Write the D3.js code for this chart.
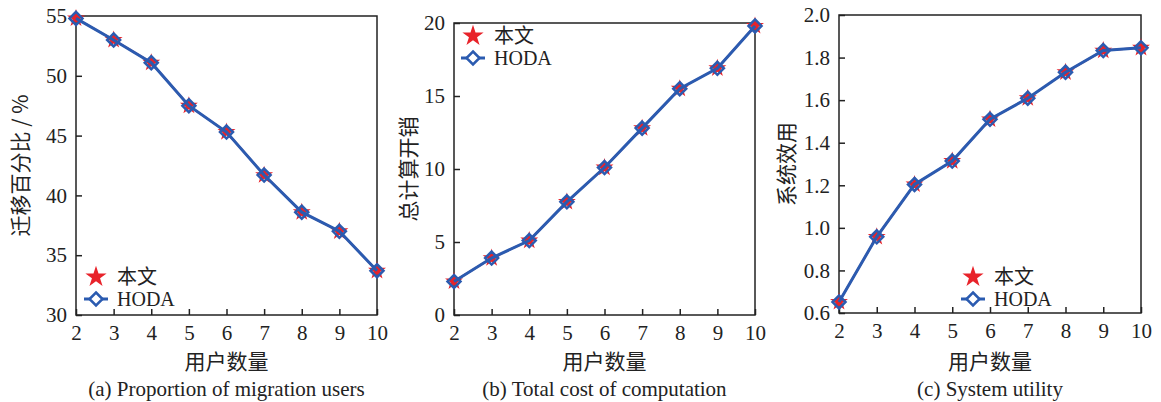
<!DOCTYPE html>
<html>
<head>
<meta charset="utf-8">
<script src="https://cdn.jsdelivr.net/npm/d3@7"></script>
<style>
  body { margin: 0; background: #fff; }
  .tick text { font-family: "Liberation Serif", "Times New Roman", serif; font-size: 21px; fill: #222; }
  .lbl { font-family: "Noto Sans CJK SC", sans-serif; font-size: 21px; fill: #222; }
  .cap { font-family: "Liberation Serif", serif; font-size: 21px; fill: #222; }
  .leg { font-family: "Liberation Serif", "Noto Sans CJK SC", serif; font-size: 20px; fill: #222; }
</style>
</head>
<body>
<div id="chart"></div>
<script>
// data
var users = [2, 3, 4, 5, 6, 7, 8, 9, 10];
var migration = [54.8, 53.0, 51.1, 47.5, 45.3, 41.7, 38.6, 37.0, 33.7];
var cost = [2.3, 3.9, 5.1, 7.75, 10.1, 12.8, 15.5, 16.9, 19.8];
var utility = [0.652, 0.958, 1.204, 1.314, 1.51, 1.609, 1.731, 1.833, 1.846];
var seriesNames = ['本文', 'HODA'];
var yLabels = ['迁移百分比 / %', '总计算开销', '系统效用'];
var xLabel = '用户数量';
var captions = ['(a) Proportion of migration users', '(b) Total cost of computation', '(c) System utility'];

var width = 1161, height = 402;
var red = '#e8232a', blue = '#2b5bb0';

var svg = d3.select('#chart')
    .append('svg')
    .attr('width', width + 'px')
    .attr('height', height + 'px');

var panels = [
    { values: migration, domain: [30, 55], ticks: d3.range(30, 56, 5), fmt: d3.format('d'),
      box: [76, 377, 16, 315], ylx: 19, legend: [96, 277] },
    { values: cost, domain: [0, 20], ticks: d3.range(0, 21, 5), fmt: d3.format('d'),
      box: [454, 755, 23, 315], ylx: 407, legend: [473, 36] },
    { values: utility, domain: [0.6, 2.0], ticks: [0.6, 0.8, 1.0, 1.2, 1.4, 1.6, 1.8, 2.0], fmt: d3.format('.1f'),
      box: [839, 1141, 15, 313], ylx: 785, legend: [973, 277] }
];

var star = d3.symbol().type(d3.symbolStar).size(100);
var starLeg = d3.symbol().type(d3.symbolStar).size(140);
var diamond = 'M0,-6.5L6.5,0L0,6.5L-6.5,0Z';

panels.forEach(function(p, i){
    var l = p.box[0], r = p.box[1], t = p.box[2], b = p.box[3];
    var x = d3.scaleLinear().domain([2, 10]).range([l, r]);
    var y = d3.scaleLinear().domain(p.domain).range([b, t]);
    var g = svg.append('g');

    // axes with inward ticks
    g.append('g')
        .attr('transform', 'translate(0,' + b + ')')
        .call(d3.axisBottom(x).tickValues(users).tickSize(-6).tickPadding(10).tickFormat(d3.format('d')))
        .call(function(a){ a.select('.domain').remove(); a.selectAll('line').attr('stroke', '#222').attr('stroke-width', 1.5); });
    g.append('g')
        .attr('transform', 'translate(' + l + ',0)')
        .call(d3.axisLeft(y).tickValues(p.ticks).tickSize(-6).tickPadding(9).tickFormat(p.fmt))
        .call(function(a){ a.select('.domain').remove(); a.selectAll('line').attr('stroke', '#222').attr('stroke-width', 1.5); });

    g.append('rect')
        .attr('x', l).attr('y', t)
        .attr('width', r - l).attr('height', b - t)
        .attr('fill', 'none').attr('stroke', '#222').attr('stroke-width', 1.5);

    var line = d3.line()
        .x(function(d, j){ return x(users[j]); })
        .y(function(d){ return y(d); });

    // 本文
    g.append('path').datum(p.values).attr('d', line)
        .attr('fill', 'none').attr('stroke', red).attr('stroke-width', 2);
    g.selectAll('.star').data(p.values).enter().append('path')
        .attr('class', 'star')
        .attr('transform', function(d, j){ return 'translate(' + x(users[j]) + ',' + y(d) + ')'; })
        .attr('d', star).attr('fill', red);

    // HODA
    g.append('path').datum(p.values).attr('d', line)
        .attr('fill', 'none').attr('stroke', blue).attr('stroke-width', 3);
    g.selectAll('.dia').data(p.values).enter().append('path')
        .attr('class', 'dia')
        .attr('transform', function(d, j){ return 'translate(' + x(users[j]) + ',' + y(d) + ')'; })
        .attr('d', diamond).attr('fill', 'none').attr('stroke', blue).attr('stroke-width', 2.5);

    // labels
    var cx = (l + r) / 2;
    g.append('text').attr('class', 'lbl')
        .attr('transform', 'translate(' + p.ylx + ',' + ((t + b) / 2) + ') rotate(-90)')
        .attr('text-anchor', 'middle').attr('dominant-baseline', 'central')
        .text(yLabels[i]);
    g.append('text').attr('class', 'lbl')
        .attr('x', cx).attr('y', 369)
        .attr('text-anchor', 'middle')
        .text(xLabel);
    g.append('text').attr('class', 'cap')
        .attr('x', cx).attr('y', 396)
        .attr('text-anchor', 'middle')
        .text(captions[i]);

    // legend
    var lx = p.legend[0], ly = p.legend[1], dy = 22;
    g.append('path').attr('transform', 'translate(' + lx + ',' + ly + ')').attr('d', starLeg).attr('fill', red);
    g.append('line').attr('x1', lx - 12).attr('x2', lx + 12).attr('y1', ly + dy).attr('y2', ly + dy)
        .attr('stroke', blue).attr('stroke-width', 3);
    g.append('path').attr('transform', 'translate(' + lx + ',' + (ly + dy) + ')').attr('d', diamond)
        .attr('fill', '#fff').attr('stroke', blue).attr('stroke-width', 2.5);
    g.append('text').attr('class', 'leg').attr('x', lx + 21).attr('y', ly).attr('dominant-baseline', 'central').text(seriesNames[0]);
    g.append('text').attr('class', 'leg').attr('x', lx + 21).attr('y', ly + dy).attr('dominant-baseline', 'central').text(seriesNames[1]);
});
</script>
</body>
</html>
